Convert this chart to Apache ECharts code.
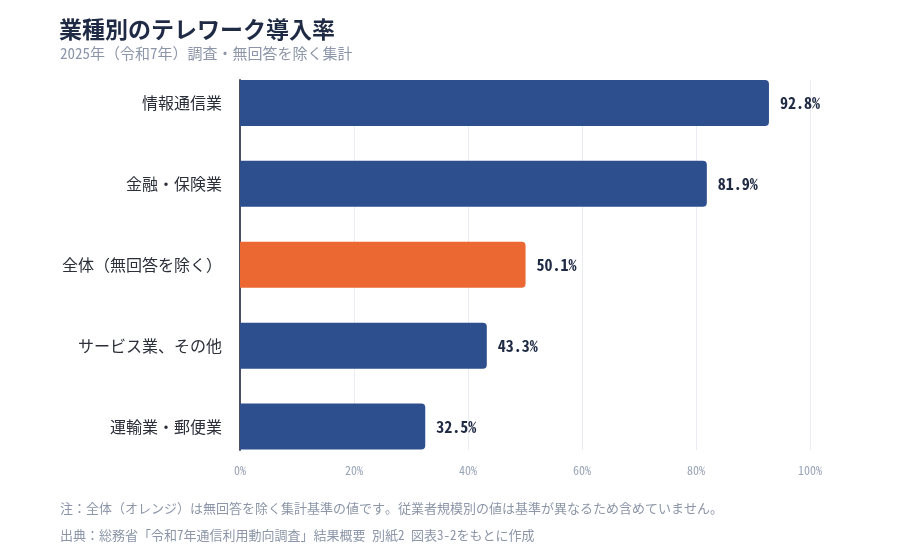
<!DOCTYPE html>
<html><head><meta charset="utf-8">
<script src="https://cdn.jsdelivr.net/npm/echarts@6/dist/echarts.min.js"></script>
<style>html,body{margin:0;padding:0;background:#fff}#c{width:900px;height:560px}</style>
</head><body><div id="c"></div>
<script>
const categories = ['情報通信業','金融・保険業','全体（無回答を除く）','サービス業、その他','運輸業・郵便業'];
const values = [92.8, 81.9, 50.1, 43.3, 32.5];
const highlight = [false, false, true, false, false];
const xTicks = [0, 20, 40, 60, 80, 100];
const titleText = '業種別のテレワーク導入率';
const subtitleText = '2025年（令和7年）調査・無回答を除く集計';
const note1 = '注：全体（オレンジ）は無回答を除く集計基準の値です。従業者規模別の値は基準が異なるため含めていません。';
const note2 = '出典：総務省「令和7年通信利用動向調査」結果概要 別紙2 図表3-2をもとに作成';

const FONT = '"Noto Sans Mono CJK JP","Noto Sans CJK JP",monospace';
const NAVY = '#2d4f8e', ORANGE = '#ec6833';

const chart = echarts.init(document.getElementById('c'), null, {renderer:'canvas'});
chart.setOption({
  backgroundColor:'#fff',
  textStyle:{fontFamily:FONT},
  title:[
    {text:titleText, left:54, top:13, textStyle:{fontSize:23, fontWeight:'bold', color:'#1f2a44', fontFamily:FONT}},
    {text:subtitleText, left:55, top:41, textStyle:{fontSize:15, fontWeight:'normal', color:'#8c96a8', fontFamily:FONT}},
    {text:note1, left:55, top:497, textStyle:{fontSize:13, fontWeight:'normal', color:'#8c96a8', fontFamily:FONT}},
    {text:note2, left:55, top:524, textStyle:{fontSize:13, fontWeight:'normal', color:'#8c96a8', fontFamily:FONT}}
  ],
  grid:[
    {left:240, right:90, top:80, bottom:110},
    {left:240, right:90, top:62.5, bottom:93}
  ],
  xAxis:[
    {gridIndex:0, type:'value', min:0, max:100, interval:20,
     axisLine:{show:false}, axisTick:{show:false},
     axisLabel:{formatter:'{value}%', color:'#9aa5b8', fontSize:12, margin:14, fontFamily:FONT},
     splitLine:{lineStyle:{color:'#e9ecf2', width:1}}},
    {gridIndex:1, type:'value', min:0, max:100, show:false}
  ],
  yAxis:[
    {gridIndex:0, type:'category', data:categories, inverse:true,
     axisLine:{show:true, lineStyle:{color:'#4a5166', width:2}}, axisTick:{show:false}, axisLabel:{show:false}},
    {gridIndex:1, type:'category', data:categories, inverse:true,
     axisLine:{show:false}, axisTick:{show:false},
     axisLabel:{color:'#2b2f3a', fontSize:16, margin:18, fontFamily:FONT}}
  ],
  series:[{
    type:'bar', xAxisIndex:1, yAxisIndex:1, barWidth:46,
    data: values.map((v,i)=>({value:v, itemStyle:{color: highlight[i]?ORANGE:NAVY}})),
    itemStyle:{borderRadius:[0,4,4,0]},
    label:{show:true, position:'right', distance:11, formatter:p=>p.value.toFixed(1)+'%',
      color:'#1f2a44', fontSize:16, fontWeight:'bold', fontFamily:FONT},
    z:3
  }]
});
</script></body></html>
